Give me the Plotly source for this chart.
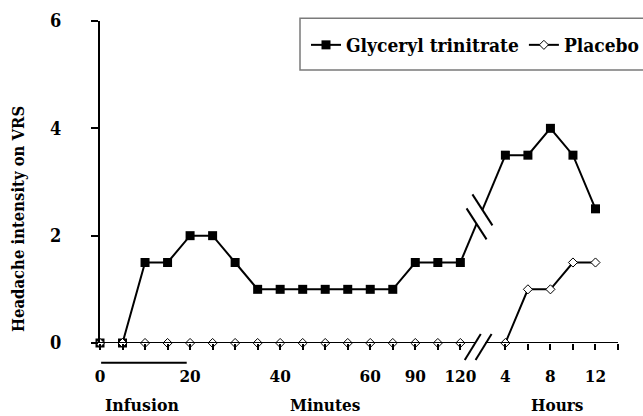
import plotly.graph_objects as go

# ---------------- data ----------------
minutes = [0, 5, 10, 15, 20, 25, 30, 35, 40, 45, 50, 55, 60, 75, 90, 105, 120]
hours = [4, 6, 8, 10, 12]
gtn_minutes = [0, 0, 1.5, 1.5, 2, 2, 1.5, 1, 1, 1, 1, 1, 1, 1, 1.5, 1.5, 1.5]
gtn_hours = [3.5, 3.5, 4, 3.5, 2.5]
placebo_minutes = [0, 0, 0, 0, 0, 0, 0, 0, 0, 0, 0, 0, 0, 0, 0, 0, 0]
placebo_hours = [0, 1, 1, 1.5, 1.5]
minute_tick_labels = [0, 20, 40, 60, 90, 120]
hour_tick_labels = [4, 8, 12]
hours_axis_end = 14
infusion_end_min = 20
y_ticks = [0, 2, 4, 6]

FONT = "DejaVu Serif Condensed, DejaVu Serif"
W, H = 643, 416
L, R, T, B = 100, 25, 21, 73
PW, PH = W - L - R, H - T - B


def py(pix):
    return (PH + T - pix) / PH


def px(pix):
    return (pix - L) / PW


def pos_min(m):
    return minutes.index(m)


def pos_hr(h):
    return len(minutes) + 1 + (h - hours[0]) / 2


X_MAX = pos_hr(hours_axis_end)
x_min = [pos_min(m) for m in minutes]
x_hr = [pos_hr(h) for h in hours]
x_gap = x_min[-1] + 1
x_all = x_min + [x_gap] + x_hr

fig = go.Figure()
fig.add_trace(go.Scatter(
    x=x_all, y=gtn_minutes + [None] + gtn_hours, name="Glyceryl trinitrate",
    mode="lines+markers", connectgaps=False, cliponaxis=False,
    line=dict(color="black", width=2),
    marker=dict(symbol="square", size=9, color="black"),
))
fig.add_trace(go.Scatter(
    x=x_all, y=placebo_minutes + [None] + placebo_hours, name="Placebo",
    mode="lines+markers", connectgaps=False, cliponaxis=False,
    line=dict(color="black", width=2),
    marker=dict(symbol="diamond", size=7, color="white",
                line=dict(color="black", width=1)),
))

shapes = []


def seg(x0, y0, x1, y1, t0, t1):
    return dict(type="line", xref="x", yref="y",
                x0=x0 + t0 * (x1 - x0), y0=y0 + t0 * (y1 - y0),
                x1=x0 + t1 * (x1 - x0), y1=y0 + t1 * (y1 - y0),
                line=dict(color="black", width=2), layer="above")


def mark(xa, ya, dx0, dy0, dx1, dy1, ref="data"):
    if ref == "data":
        xr, yr = "x", "y"
    else:
        xr, yr = "paper", "paper"
        xa = xa / X_MAX
        ya = ya / 6
    return dict(type="line", xref=xr, yref=yr, xsizemode="pixel", ysizemode="pixel",
                xanchor=xa, yanchor=ya, x0=dx0, y0=dy0, x1=dx1, y1=dy1,
                line=dict(color="black", width=2), layer="above")


# GTN break connector with break marks
gx0, gy0, gx1, gy1 = x_min[-1], gtn_minutes[-1], x_hr[0], gtn_hours[0]
shapes.append(seg(gx0, gy0, gx1, gy1, 0, 0.36))
shapes.append(seg(gx0, gy0, gx1, gy1, 0.49, 1))
for t in (0.36, 0.49):
    shapes.append(mark(gx0 + t * (gx1 - gx0), gy0 + t * (gy1 - gy0), -10, 15.5, 10, -15.5))

# Placebo / x-axis break connector with break marks
bx0, by0, bx1, by1 = x_min[-1], placebo_minutes[-1], x_hr[0], placebo_hours[0]
shapes.append(seg(bx0, by0, bx1, by1, 0, 0.32))
shapes.append(seg(bx0, by0, bx1, by1, 0.56, 1))
for t in (0.32, 0.56):
    shapes.append(mark(bx0 + t * (bx1 - bx0), 0, -10, -17, 6, 9, ref="paper"))

# x-axis line with gap
shapes.append(dict(type="line", xref="x", yref="y", x0=0, y0=0, x1=bx0 + 0.32 * (bx1 - bx0), y1=0,
                   line=dict(color="black", width=2)))
shapes.append(dict(type="line", xref="x", yref="y", x0=bx0 + 0.56 * (bx1 - bx0), y0=0,
                   x1=X_MAX, y1=0, line=dict(color="black", width=2)))

# infusion bar
shapes.append(dict(type="line", xref="paper", yref="paper", x0=0.05 / X_MAX,
                   x1=(pos_min(infusion_end_min) - 0.15) / X_MAX,
                   y0=py(362.7), y1=py(362.7), line=dict(color="black", width=2)))

# legend frame
shapes.append(dict(type="rect", xref="paper", yref="paper",
                   x0=px(300), x1=1.07, y0=py(70), y1=py(18.3),
                   line=dict(color="#7a7a7a", width=1.5), fillcolor="rgba(0,0,0,0)"))

tickvals = x_min + x_hr + [X_MAX]
ticktext = ([str(m) if m in minute_tick_labels else "" for m in minutes]
            + [str(h) if h in hour_tick_labels else "" for h in hours + [hours_axis_end]])


def fb(size):
    return dict(family=FONT, size=size, color="black", weight="bold")


annotations = [
    dict(text="Headache intensity on VRS", xref="paper", yref="paper",
         x=px(19), y=py(219), textangle=-90, showarrow=False,
         xanchor="center", yanchor="middle", font=fb(16.5)),
    dict(text="Infusion", xref="paper", yref="paper", x=px(141.7), y=py(405),
         showarrow=False, xanchor="center", yanchor="middle", font=fb(17.5)),
    dict(text="Minutes", xref="paper", yref="paper", x=px(325), y=py(405),
         showarrow=False, xanchor="center", yanchor="middle", font=fb(17)),
    dict(text="Hours", xref="paper", yref="paper", x=px(556.7), y=py(405),
         showarrow=False, xanchor="center", yanchor="middle", font=fb(17)),
]

fig.update_layout(
    width=W, height=H, margin=dict(l=L, r=R, t=T, b=B, autoexpand=False),
    paper_bgcolor="white", plot_bgcolor="white",
    font=dict(family=FONT),
    shapes=shapes, annotations=annotations,
    showlegend=True,
    legend=dict(orientation="h", xref="paper", yref="paper",
                x=px(306), y=py(45), xanchor="left", yanchor="middle",
                font=fb(19),
                bgcolor="rgba(0,0,0,0)", borderwidth=0),
    xaxis=dict(range=[0, X_MAX], showline=False, showgrid=False, zeroline=False,
               tickmode="array", tickvals=tickvals, ticktext=ticktext,
               ticks="outside", ticklen=6, tickwidth=2, tickcolor="black",
               ticklabelstandoff=12, tickfont=fb(17)),
    yaxis=dict(range=[0, 6], showline=True, linecolor="black", linewidth=2, showgrid=False,
               zeroline=False, tickmode="array", tickvals=y_ticks,
               ticks="outside", ticklen=7, tickwidth=2, tickcolor="black",
               ticklabelstandoff=26, tickfont=fb(18)),
)

fig.write_html("out.html")
